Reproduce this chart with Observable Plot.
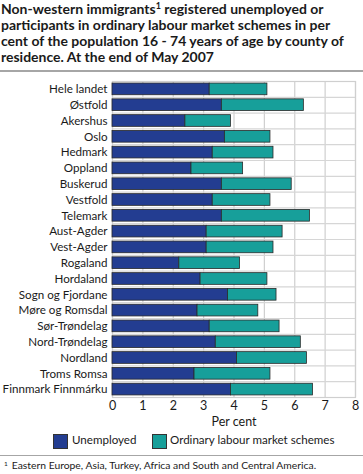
<!DOCTYPE html>
<html>
<head>
<meta charset="utf-8">
<script src="https://cdn.jsdelivr.net/npm/d3@7"></script>
<script src="https://cdn.jsdelivr.net/npm/@observablehq/plot@0.6"></script>
<style>
  html, body { margin: 0; padding: 0; background: #fff; }
  body { width: 363px; height: 474px; position: relative; overflow: hidden; font-family: Lato, "Open Sans", sans-serif; color: #1a1a1a; }
  #title { position: absolute; left: 1px; top: 1px; width: 362px; font-weight: bold; line-height: 16px; white-space: nowrap; }
  #title sup { font-size: 9px; line-height: 0; vertical-align: 5px; }
  #rule1 { position: absolute; left: 0; top: 70px; width: 363px; height: 2px; background: #a6a6a6; }
  #chart { position: absolute; left: 0; top: 74px; width: 363px; }
  #chart svg { display: block; }
  #legend { position: absolute; left: 0; top: 434px; width: 363px; height: 16px; }
  .sw { position: absolute; top: 0; width: 15px; height: 15px; border: 0.8px solid #333; box-sizing: border-box; }
  .lt { position: absolute; top: -1px; white-space: nowrap; }
  #rule2 { position: absolute; left: 0; top: 455px; width: 363px; height: 1px; background: #a6a6a6; }
  #foot { position: absolute; left: 4px; top: 459px; white-space: nowrap; }
  #foot sup { font-size: 6.5px; vertical-align: 3px; line-height: 0; margin-right: 4px; }
</style>
</head>
<body>
<div id="title">Non-western immigrants<sup>1</sup> registered unemployed or<br>participants in ordinary labour market schemes in per<br>cent of the population 16 - 74 years of age by county of<br>residence. At the end of May 2007</div>
<div id="rule1"></div>
<div id="chart"></div>
<div id="legend"></div>
<div id="rule2"></div>
<div id="foot"><sup>1</sup><span id="foottext">Eastern Europe, Asia, Turkey, Africa and South and Central America.</span></div>
<script>
const counties = ["Hele landet","Østfold","Akershus","Oslo","Hedmark","Oppland","Buskerud","Vestfold","Telemark","Aust-Agder","Vest-Agder","Rogaland","Hordaland","Sogn og Fjordane","Møre og Romsdal","Sør-Trøndelag","Nord-Trøndelag","Nordland","Troms Romsa","Finnmark Finnmárku"];
const unemployed = [3.2,3.6,2.4,3.7,3.3,2.6,3.6,3.3,3.6,3.1,3.1,2.2,2.9,3.8,2.8,3.2,3.4,4.1,2.7,3.9];
const schemes    = [1.9,2.7,1.5,1.5,2.0,1.7,2.3,1.9,2.9,2.5,2.2,2.0,2.2,1.6,2.0,2.3,2.8,2.3,2.5,2.7];
const seriesNames = ["Unemployed","Ordinary labour market schemes"];
const seriesColors = ["#233d91","#179f9a"];
const xTicks = [0,1,2,3,4,5,6,7,8];

const FAMILY = "Lato, 'Open Sans', sans-serif";
const ctx = document.createElement("canvas").getContext("2d");
function fit(text, weight, target) {
  ctx.font = `${weight} 100px ${FAMILY}`;
  return 100 * target / ctx.measureText(text).width;
}
// font sizes chosen to match text widths in the reference
const titleSize = Math.min(15, fit("participants in ordinary labour market schemes in per", "bold", 330));
const axisSize = Math.min(13, fit("Finnmark Finnmárku", "normal", 105));
const legendSize = fit("Ordinary labour market schemes", "normal", 165);
const footSize = fit("Eastern Europe, Asia, Turkey, Africa and South and Central America.", "normal", 306);
document.getElementById("title").style.fontSize = titleSize + "px";
document.getElementById("legend").style.fontSize = legendSize + "px";
document.getElementById("foot").style.fontSize = footSize + "px";

const data = [];
counties.forEach((c, i) => {
  data.push({county: c, type: seriesNames[0], value: unemployed[i]});
  data.push({county: c, type: seriesNames[1], value: schemes[i]});
});

const W = 363, mL = 112, mR = 8, mT = 7, mB = 31;
const plotH = 316;
const H = plotH + mT + mB;
const step = plotH / counties.length;

const chart = Plot.plot({
  width: W, height: H,
  marginLeft: mL, marginRight: mR, marginTop: mT, marginBottom: mB,
  style: {fontFamily: FAMILY, fontSize: axisSize + "px", color: "#1a1a1a", background: "#fff", maxWidth: "none"},
  x: {domain: [0, 8]},
  y: {domain: counties, round: false, paddingInner: 0.26, paddingOuter: 0.13},
  color: {domain: seriesNames, range: seriesColors},
  marks: [
    Plot.gridX(xTicks, {stroke: "#cfcfcf", strokeOpacity: 1, strokeWidth: 1.2}),
    Plot.ruleY(counties.slice(1), {y: d => d, dy: -step/2, stroke: "#d6d6d6", strokeWidth: 1.2}),
    Plot.frame({stroke: "#cfcfcf", strokeWidth: 1.2}),
    Plot.barX(data, {x: "value", y: "county", fill: "type", stroke: "#2a2a2a", strokeWidth: 0.8, order: seriesNames}),
    Plot.axisY({tickSize: 0, tickPadding: 5, label: null}),
    Plot.axisX(xTicks, {tickSize: 0, tickPadding: 4, fontSize: 12.5, label: "Per cent", labelAnchor: "center", labelArrow: "none", labelOffset: 28})
  ]
});
document.getElementById("chart").appendChild(chart);

const legend = document.getElementById("legend");
const pos = [[53, 72],[152, 170]];
seriesNames.forEach((n, i) => {
  const s = document.createElement("div");
  s.className = "sw"; s.style.left = pos[i][0] + "px"; s.style.background = seriesColors[i];
  legend.appendChild(s);
  const t = document.createElement("div");
  t.className = "lt"; t.style.left = pos[i][1] + "px"; t.textContent = n;
  legend.appendChild(t);
});
</script>
</body>
</html>
